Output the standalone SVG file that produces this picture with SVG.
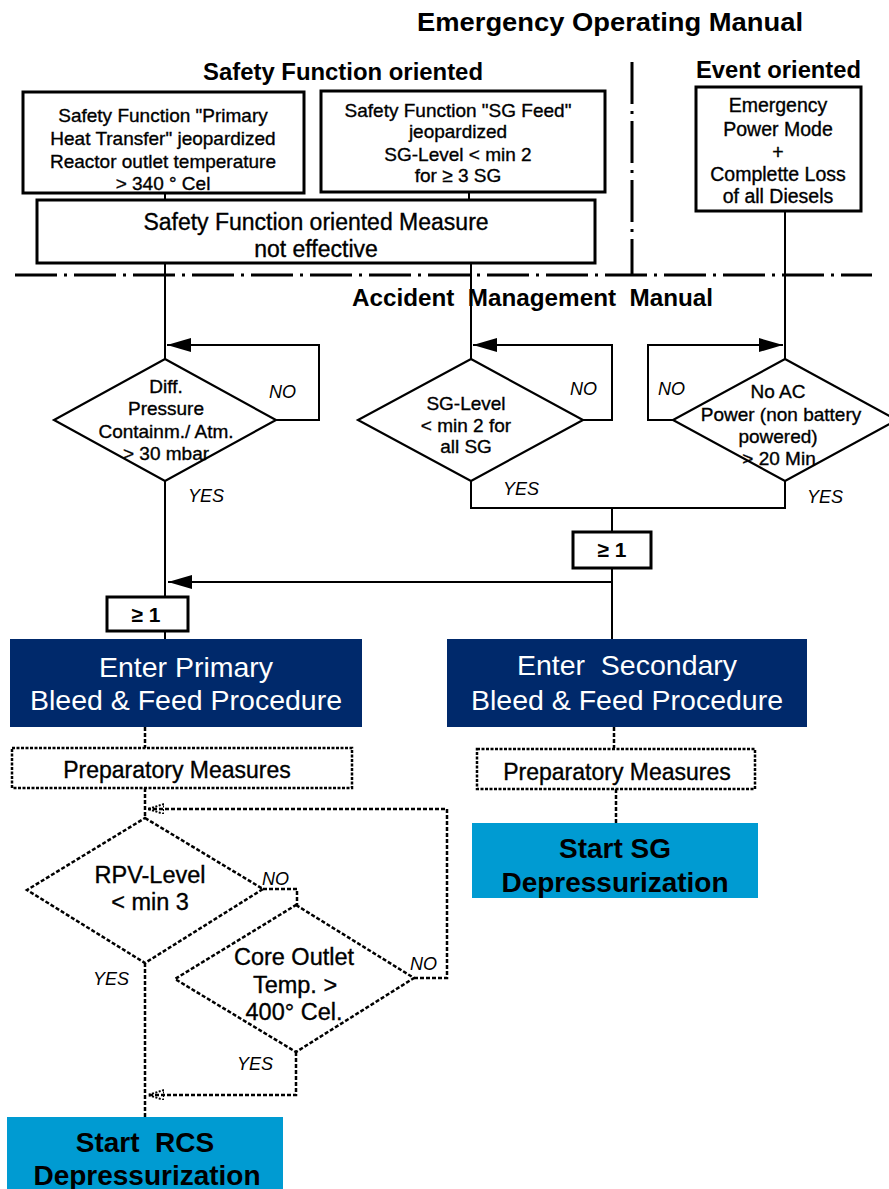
<svg xmlns="http://www.w3.org/2000/svg" width="889" height="1189" viewBox="0 0 889 1189">
  <style>
    .hd { font-family: "Liberation Sans", Arial, sans-serif; font-weight: bold; fill: #000; }
    .tx { font-family: "Liberation Sans", Arial, sans-serif; fill: #000; stroke: #000; stroke-width: 0.35; text-anchor: middle; }
    .lbl { font-family: "Liberation Sans", Arial, sans-serif; font-style: italic; fill: #000; font-size: 18px; }
    .box { fill: #fff; stroke: #000; stroke-width: 3; }
    .dia { fill: #fff; stroke: #000; stroke-width: 2.2; }
    .ln { fill: none; stroke: #000; stroke-width: 2; }
    .dash { fill: none; stroke: #000; stroke-width: 2.5; stroke-dasharray: 4 2; }
    .dbox { fill: #fff; stroke: #000; stroke-width: 2.5; stroke-dasharray: 3 1.5; }
    .sep { fill: none; stroke: #000; stroke-width: 3; stroke-dasharray: 42 7 3 7; }
    .navy { fill: #00296b; }
    .sky { fill: #009bd2; }
    .wt { font-family: "Liberation Sans", Arial, sans-serif; fill: #fff; font-size: 28.5px; text-anchor: middle; }
    .bt { font-family: "Liberation Sans", Arial, sans-serif; fill: #000; font-weight: bold; font-size: 28px; text-anchor: middle; }
  </style>
  <defs>
    <marker id="arr" markerUnits="userSpaceOnUse" markerWidth="26" markerHeight="16" refX="24" refY="7" orient="auto">
      <path d="M0,0 L24,7 L0,14 z" fill="#000"/>
    </marker>
    <marker id="arrS" markerUnits="userSpaceOnUse" markerWidth="20" markerHeight="14" refX="16" refY="5" orient="auto">
      <path d="M0,0 L16,5 L0,10 z" fill="none" stroke="#000" stroke-width="2" stroke-dasharray="2 1.5"/>
    </marker>
  </defs>
  <rect width="889" height="1189" fill="#fff"/>

  <!-- section headings -->
  <g id="headings">
    <text class="hd" x="417" y="31" font-size="25" textLength="386" lengthAdjust="spacingAndGlyphs">Emergency Operating Manual</text>
    <text class="hd" x="203" y="80" font-size="23.5" textLength="280" lengthAdjust="spacingAndGlyphs">Safety Function oriented</text>
    <text class="hd" x="696" y="78" font-size="23.5" textLength="165" lengthAdjust="spacingAndGlyphs">Event oriented</text>
    <text class="hd" x="352" y="306" font-size="23" textLength="361" lengthAdjust="spacingAndGlyphs" xml:space="preserve">Accident  Management  Manual</text>
  </g>

  <!-- dash-dot separators -->
  <g id="separators">
    <path class="sep" d="M632,62 V275"/>
    <path class="sep" d="M15,275 H872"/>
  </g>

  <!-- connectors -->
  <g id="connectors">
    <path class="ln" d="M165,193 V200"/>
    <path class="ln" d="M469,192 V200"/>
    <path class="ln" d="M165,263 V359"/>
    <path class="ln" d="M471,263 V359"/>
    <path class="ln" d="M785,211 V359"/>
    <path class="ln" d="M276,420 H319 V345 H167" marker-end="url(#arr)"/>
    <path class="ln" d="M583,420 H612 V345 H473" marker-end="url(#arr)"/>
    <path class="ln" d="M673,420 H648 V345 H783" marker-end="url(#arr)"/>
    <path class="ln" d="M165,481 V597"/>
    <path class="ln" d="M471,481 V508 H785 V481"/>
    <path class="ln" d="M612,508 V532"/>
    <path class="ln" d="M612,568 V639"/>
    <path class="ln" d="M612,582 H168" marker-end="url(#arr)"/>
    <path class="ln" d="M165,631 V639"/>
    <path class="dash" d="M145,727 V748"/>
    <path class="dash" d="M614,727 V748"/>
    <path class="dash" d="M616,789 V823"/>
    <path class="dash" d="M145,788 V818"/>
    <path class="dash" d="M263,889 H297 V905"/>
    <path class="dash" d="M414,978 H447 V809 H148" marker-end="url(#arrS)"/>
    <path class="dash" d="M145,963 V1117"/>
    <path class="dash" d="M296,1052 V1095 H148" marker-end="url(#arrS)"/>
  </g>

  <g id="sf-primary">
    <rect class="box" x="23" y="92" width="281" height="101"/>
    <text class="tx" font-size="19" x="163" y="122">Safety Function "Primary</text>
    <text class="tx" font-size="19" x="163" y="145">Heat Transfer" jeopardized</text>
    <text class="tx" font-size="19" x="163" y="168">Reactor outlet temperature</text>
    <text class="tx" font-size="19" x="163" y="190">&gt;  340 ° Cel</text>
  </g>

  <g id="sf-sgfeed">
    <rect class="box" x="321" y="91" width="284" height="101"/>
    <text class="tx" font-size="19" x="458" y="117">Safety Function "SG Feed"</text>
    <text class="tx" font-size="19" x="458" y="138">jeopardized</text>
    <text class="tx" font-size="19" x="458" y="161">SG-Level &lt; min 2</text>
    <text class="tx" font-size="19" x="458" y="182">for ≥ 3 SG</text>
  </g>

  <g id="sf-measure">
    <rect class="box" x="37" y="200" width="558" height="63"/>
    <text class="tx" font-size="23" x="316" y="230">Safety Function oriented Measure</text>
    <text class="tx" font-size="23" x="316" y="257">not effective</text>
  </g>

  <g id="event">
    <rect class="box" x="696" y="87" width="165" height="124"/>
    <text class="tx" font-size="19.5" x="778" y="112">Emergency</text>
    <text class="tx" font-size="19.5" x="778" y="136">Power Mode</text>
    <text class="tx" font-size="19.5" x="778" y="159">+</text>
    <text class="tx" font-size="19.5" x="778" y="181">Complette Loss</text>
    <text class="tx" font-size="19.5" x="778" y="203">of all Diesels</text>
  </g>

  <g id="dec-pressure">
    <path class="dia" d="M165,359 L276,420 L165,481 L54,420 Z"/>
    <text class="tx" font-size="19" x="166" y="393">Diff.</text>
    <text class="tx" font-size="19" x="166" y="415">Pressure</text>
    <text class="tx" font-size="19" x="166" y="438">Containm./ Atm.</text>
    <text class="tx" font-size="19" x="166" y="460">&gt; 30 mbar</text>
    <text class="lbl" x="269" y="398">NO</text>
    <text class="lbl" x="188" y="502">YES</text>
  </g>

  <g id="dec-sglevel">
    <path class="dia" d="M471,359 L583,420 L471,481 L358,420 Z"/>
    <text class="tx" font-size="19" x="466" y="410">SG-Level</text>
    <text class="tx" font-size="19" x="466" y="432">&lt; min 2 for</text>
    <text class="tx" font-size="19" x="466" y="453">all SG</text>
    <text class="lbl" x="570" y="395">NO</text>
    <text class="lbl" x="503" y="495">YES</text>
  </g>

  <g id="dec-acpower">
    <path class="dia" d="M785,359 L897,420 L785,481 L673,420 Z"/>
    <text class="tx" font-size="19" x="778" y="398">No AC</text>
    <text class="tx" font-size="19" x="781" y="421">Power (non battery</text>
    <text class="tx" font-size="19" x="778" y="443">powered)</text>
    <text class="tx" font-size="19" x="779" y="465">&gt; 20 Min</text>
    <text class="lbl" x="658" y="395">NO</text>
    <text class="lbl" x="807" y="503">YES</text>
  </g>

  <g id="or-secondary">
    <rect class="box" x="573" y="532" width="78" height="36"/>
    <text class="hd" font-size="21" x="612" y="557" text-anchor="middle">≥ 1</text>
  </g>

  <g id="or-primary">
    <rect class="box" x="107" y="597" width="81" height="34"/>
    <text class="hd" font-size="21" x="146" y="622" text-anchor="middle">≥ 1</text>
  </g>

  <g id="primary-bf">
    <rect class="navy" x="10" y="639" width="352" height="88"/>
    <text class="wt" x="186" y="677">Enter Primary</text>
    <text class="wt" x="186" y="710">Bleed &amp; Feed Procedure</text>
  </g>

  <g id="secondary-bf">
    <rect class="navy" x="447" y="639" width="360" height="88"/>
    <text class="wt" x="627" y="675" xml:space="preserve">Enter  Secondary</text>
    <text class="wt" x="627" y="710">Bleed &amp; Feed Procedure</text>
  </g>

  <g id="prep-primary">
    <rect class="dbox" x="12" y="748" width="340" height="40"/>
    <text class="tx" font-size="23" x="177" y="778">Preparatory Measures</text>
  </g>

  <g id="prep-secondary">
    <rect class="dbox" x="477" y="749" width="278" height="40"/>
    <text class="tx" font-size="23" x="617" y="780">Preparatory Measures</text>
  </g>

  <g id="start-sg">
    <rect class="sky" x="472" y="823" width="286" height="75"/>
    <text class="bt" x="615" y="858">Start SG</text>
    <text class="bt" x="615" y="892">Depressurization</text>
  </g>

  <g id="dec-rpv">
    <path class="dia" style="stroke-dasharray:4 2;stroke-width:2.5" d="M145,818 L263,889 L145,963 L27,890 Z"/>
    <text class="tx" font-size="23.5" x="150" y="883">RPV-Level</text>
    <text class="tx" font-size="23.5" x="150" y="910">&lt; min 3</text>
    <text class="lbl" x="262" y="885">NO</text>
    <text class="lbl" x="93" y="985">YES</text>
  </g>

  <g id="dec-core">
    <path class="dia" style="stroke-dasharray:4 2;stroke-width:2.5" d="M296,905 L414,978 L296,1052 L175,979 Z"/>
    <text class="tx" font-size="23.5" x="294" y="965">Core Outlet</text>
    <text class="tx" font-size="23.5" x="295" y="993">Temp. &gt;</text>
    <text class="tx" font-size="23.5" x="294" y="1020">400° Cel.</text>
    <text class="lbl" x="410" y="970">NO</text>
    <text class="lbl" x="237" y="1070">YES</text>
  </g>

  <g id="start-rcs">
    <rect class="sky" x="7" y="1117" width="276" height="80"/>
    <text class="bt" x="145" y="1152" xml:space="preserve">Start  RCS</text>
    <text class="bt" x="147" y="1185">Depressurization</text>
  </g>
</svg>
